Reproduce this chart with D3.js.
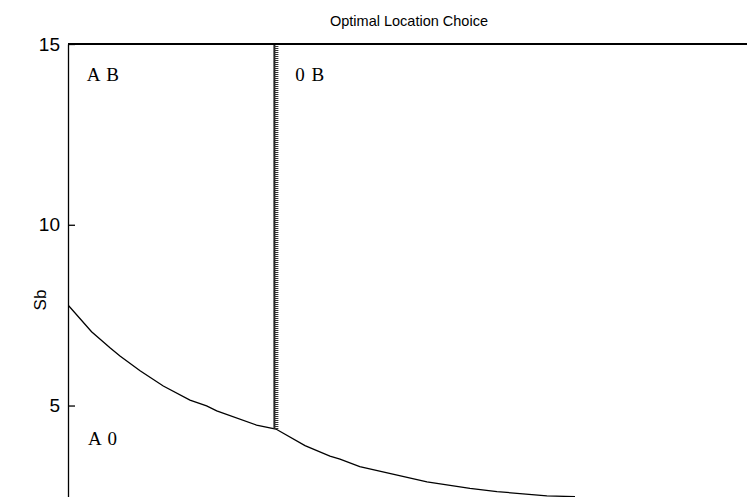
<!DOCTYPE html>
<html>
<head>
<meta charset="utf-8">
<script src="https://cdn.jsdelivr.net/npm/d3@7"></script>
<style>
  html, body { margin: 0; padding: 0; background: #fff; }
  svg { display: block; }
</style>
</head>
<body>
<svg id="chart" width="747" height="497"></svg>
<script>
// Boundary curve between regions "A 0" (below) and "A B" / "0 B" (above)
const boundaryX = [0, 0.034, 0.061, 0.075, 0.104, 0.1375, 0.176, 0.200, 0.2146, 0.272, 0.300,
                   0.342, 0.378, 0.3925, 0.421, 0.518, 0.580, 0.619, 0.691, 0.7316];
const boundaryY = [7.78, 7.04, 6.59, 6.37, 5.96, 5.54, 5.15, 4.99, 4.85, 4.46, 4.35,
                   3.89, 3.60, 3.52, 3.31, 2.89, 2.71, 2.62, 2.50, 2.48];

// Vertical switch line separating "A B" from "0 B"
const switchX = 0.3;
const switchTop = 15;

const yTicks = [5, 10, 15];
const regionLabels = ["A B", "0 B", "A 0"];
const regionX = [0.027, 0.328, 0.029];
const regionY = [13.98, 13.98, 3.91];

const titleText = "Optimal Location Choice";
const yLabel = "Sb";

const svg = d3.select("#chart");
const x = d3.scaleLinear().domain([0, 1]).range([68, 761]);
const y = d3.scaleLinear().domain([2.47, 15]).range([497, 44]);

svg.append("defs").append("clipPath").attr("id", "plot-clip")
  .append("rect").attr("x", x(0)).attr("y", y(15) - 2)
  .attr("width", 747 - x(0)).attr("height", 497 - y(15) + 2);

const plot = svg.append("g").attr("clip-path", "url(#plot-clip)");

// Boundary curve
const pts = boundaryX.map((d, i) => [d, boundaryY[i]]);
plot.append("path")
  .datum(pts)
  .attr("fill", "none")
  .attr("stroke", "#000")
  .attr("stroke-width", 1.3)
  .attr("d", d3.line().x(d => x(d[0])).y(d => y(d[1])));

// Vertical dashed switch line, ending on the curve
const switchBottom = boundaryY[boundaryX.indexOf(switchX)];
plot.append("line")
  .attr("x1", x(switchX) - 1.5).attr("x2", x(switchX) - 1.5)
  .attr("y1", y(switchTop)).attr("y2", y(switchBottom))
  .attr("stroke", "#222").attr("stroke-width", 2);
plot.append("line")
  .attr("x1", x(switchX) + 0.5).attr("x2", x(switchX) + 0.5)
  .attr("y1", y(switchTop)).attr("y2", y(switchBottom))
  .attr("stroke", "#333").attr("stroke-width", 4)
  .attr("stroke-dasharray", "1,1");

// Top border of the axes box
svg.append("line")
  .attr("x1", x(0)).attr("x2", 747)
  .attr("y1", y(15)).attr("y2", y(15))
  .attr("stroke", "#000").attr("stroke-width", 1.8);

// Left y axis with inward ticks
const yAxis = d3.axisLeft(y).tickValues(yTicks).tickSizeInner(-7).tickSizeOuter(0).tickPadding(8);
const gy = svg.append("g").attr("transform", `translate(${x(0)},0)`).call(yAxis);
gy.select(".domain").attr("stroke", "#000").attr("stroke-width", 1.3);
gy.selectAll(".tick line").attr("stroke", "#000").attr("stroke-width", 1.3);
gy.selectAll(".tick text")
  .attr("font-family", "'Liberation Sans', Arial, sans-serif")
  .attr("font-size", 19).attr("fill", "#000");

// Title
svg.append("text")
  .attr("x", 409).attr("y", 26)
  .attr("text-anchor", "middle")
  .attr("font-family", "'Liberation Sans', Arial, sans-serif")
  .attr("font-size", 14.5).attr("fill", "#000")
  .text(titleText);

// Y label
svg.append("text")
  .attr("transform", "translate(46,300) rotate(-90)")
  .attr("text-anchor", "middle")
  .attr("font-family", "'Liberation Sans', Arial, sans-serif")
  .attr("font-size", 17).attr("fill", "#000")
  .text(yLabel);

// Region labels
svg.selectAll("text.region")
  .data(regionLabels)
  .enter().append("text")
  .attr("class", "region")
  .attr("x", (d, i) => x(regionX[i]))
  .attr("y", (d, i) => y(regionY[i]))
  .attr("font-family", "'Liberation Serif', 'Times New Roman', serif")
  .attr("font-size", 19)
  .attr("word-spacing", 2)
  .attr("fill", "#000")
  .text(d => d);
</script>
</body>
</html>
